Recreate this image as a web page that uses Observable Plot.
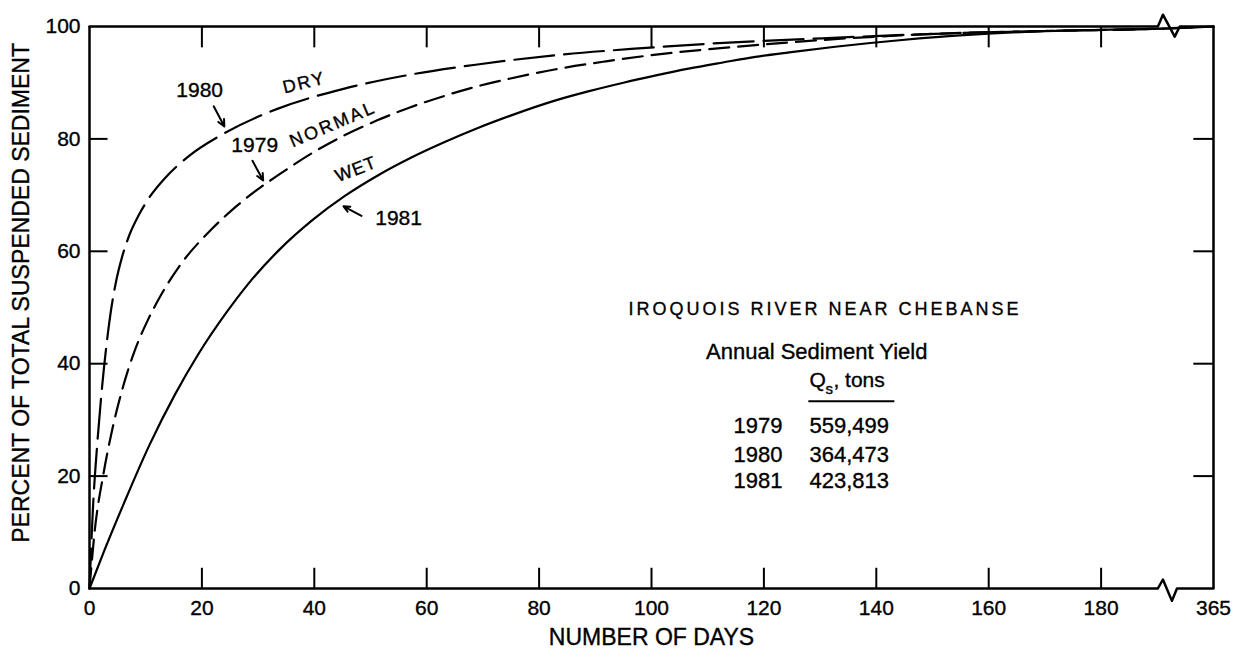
<!DOCTYPE html>
<html>
<head>
<meta charset="utf-8">
<script src="https://cdn.jsdelivr.net/npm/d3@7"></script>
<script src="https://cdn.jsdelivr.net/npm/@observablehq/plot@0.6"></script>
<style>
  body { margin: 0; background: #fff; }
</style>
</head>
<body>
<div id="chart"></div>
<script>
// ---- Data (days since start of water year, cumulative percent of annual suspended sediment)
// x value 200 stands for day 365 (axis break after 190)
const dryDays = [0, 0.6, 1.4, 2.3, 3.1, 3.9, 4.7, 5.8, 7.1, 8.8, 10.8, 13.5, 17.5, 24.0, 33.3, 45.2, 56.9, 68.7, 83.0, 97.7, 109.6, 130.4, 150.5, 170, 190, 200];
const dryPct  = [0, 14.0, 26.0, 36.5, 44.0, 50.0, 54.5, 59.0, 62.9, 66.5, 69.8, 73.1, 76.8, 81.0, 85.3, 88.9, 91.4, 93.2, 94.9, 96.1, 96.9, 97.9, 98.7, 99.2, 99.6, 100];

const normalDays = [0, 0.9, 2.5, 4.1, 5.8, 8.0, 10.4, 12.6, 16.1, 21.8, 26.0, 30.6, 33.5, 39.3, 45.3, 51.2, 57.0, 63.0, 68.8, 74.7, 83.0, 91.9, 100.8, 109.6, 118.5, 130.4, 150.5, 170, 190, 200];
const normalPct  = [0, 10.0, 20.5, 28.5, 35.3, 42.2, 47.8, 52.0, 57.5, 64.0, 67.9, 71.5, 73.5, 77.3, 80.6, 83.3, 85.6, 87.6, 89.3, 90.7, 92.4, 93.8, 95.0, 95.9, 96.7, 97.6, 98.7, 99.2, 99.6, 100];

const wetDays = [0, 2.7, 6.1, 10.7, 15.2, 19.3, 24.5, 28.0, 33.8, 39.6, 45.5, 51.3, 57.1, 63.1, 69.0, 74.8, 83.1, 88.9, 95.0, 100.8, 106.6, 112.7, 118.5, 124.5, 132.7, 144.6, 156.3, 168.2, 180, 190, 200];
const wetPct  = [0, 6.9, 15.1, 25.6, 34.5, 41.6, 49.3, 53.9, 60.3, 65.5, 69.9, 73.5, 76.6, 79.4, 81.9, 84.1, 86.9, 88.5, 90.0, 91.3, 92.5, 93.6, 94.6, 95.4, 96.4, 97.6, 98.5, 99.1, 99.4, 99.6, 100];

// ---- Axis ticks
const xTicks = [0, 20, 40, 60, 80, 100, 120, 140, 160, 180, 200];
const xTickLabels = ["0", "20", "40", "60", "80", "100", "120", "140", "160", "180", "365"];
const xInnerTicks = [20, 40, 60, 80, 100, 120, 140, 160, 180];
const yTicks = [0, 20, 40, 60, 80, 100];
const yInnerTicks = [20, 40, 60, 80];

// ---- Axis break (zig-zag) on bottom and top edges, in data units
const bottomEdge = [[0, 0], [190.1, 0], [191.0, 1.6], [192.6, -2.2], [193.5, 0], [200, 0]];
const topEdge = [[0, 100], [190.1, 100], [191.0, 102.1], [193.1, 98.2], [194.0, 100], [200, 100]];

// ---- Curve labels
const yearLabels = [
  {text: "1980", day: 19.6, pct: 88.6},
  {text: "1979", day: 29.4, pct: 78.8},
  {text: "1981", day: 55.0, pct: 65.9}
];
const typeLabels = [
  {text: "DRY", day: 38.2, pct: 90.0, angle: -14},
  {text: "NORMAL", day: 43.3, pct: 82.6, angle: -23},
  {text: "WET", day: 47.4, pct: 74.6, angle: -21}
];
const pointers = [
  {x1: 22.1, y1: 85.8, x2: 24.0, y2: 82.2},
  {x1: 29.0, y1: 76.1, x2: 30.9, y2: 72.6},
  {x1: 48.4, y1: 66.3, x2: 45.2, y2: 68.0}
];

// ---- Inset table
const stationName = "IROQUOIS RIVER NEAR CHEBANSE";
const tableTitle = "Annual Sediment Yield";
const tableYears = ["1979", "1980", "1981"];
const tableYields = ["559,499", "364,473", "423,813"];
const tableRowPct = [28.9, 23.7, 19.1];

const yLabel = "PERCENT OF TOTAL SUSPENDED SEDIMENT";
const xLabel = "NUMBER OF DAYS";

const rows = (days, pct) => days.map((d, i) => ({day: d, pct: pct[i]}));
const font = "'Liberation Sans', Arial, Helvetica, sans-serif";
const ink = "#000";

const chart = Plot.plot({
  width: 1234,
  height: 653,
  marginLeft: 89,
  marginRight: 21,
  marginTop: 26,
  marginBottom: 65,
  x: {domain: [0, 200]},
  y: {domain: [0, 100]},
  style: {fontFamily: font, fontSize: "21px", color: ink, background: "#fff", overflow: "visible"},
  marks: [
    // frame
    Plot.line(bottomEdge, {x: d => d[0], y: d => d[1], stroke: ink, strokeWidth: 2.5}),
    Plot.line(topEdge, {x: d => d[0], y: d => d[1], stroke: ink, strokeWidth: 2.5}),
    Plot.ruleX([0, 200], {y1: 0, y2: 100, stroke: ink, strokeWidth: 2.5}),
    // inward ticks
    Plot.ruleX(xInnerTicks, {x: d => d, y1: 0, y2: 3.6, stroke: ink, strokeWidth: 2}),
    Plot.ruleX(xInnerTicks, {x: d => d, y1: 100, y2: 96.2, stroke: ink, strokeWidth: 2}),
    Plot.ruleY(yInnerTicks, {y: d => d, x1: 0, x2: 3.3, stroke: ink, strokeWidth: 2}),
    Plot.ruleY(yInnerTicks, {y: d => d, x1: 200, x2: 196.5, stroke: ink, strokeWidth: 2}),
    // tick labels
    Plot.axisX({ticks: xTicks, tickFormat: d => xTickLabels[xTicks.indexOf(d)], tickSize: 0, tickPadding: 12, label: null, fontSize: 21, fill: ink}),
    Plot.axisY({ticks: yTicks, tickSize: 0, tickPadding: 9, label: null, fontSize: 21, fill: ink}),
    // axis titles
    Plot.text([xLabel], {x: 100, y: -8.7, text: d => d, fontSize: 23, fill: ink}),
    Plot.text([yLabel], {x: -12, y: 52.6, text: d => d, rotate: -90, fontSize: 23, fill: ink}),
    // curves
    Plot.line(rows(wetDays, wetPct), {x: "day", y: "pct", stroke: ink, strokeWidth: 2.2, curve: "monotone-x"}),
    Plot.line(rows(normalDays, normalPct), {x: "day", y: "pct", stroke: ink, strokeWidth: 2.2, strokeDasharray: "20,9", curve: "monotone-x"}),
    Plot.line(rows(dryDays, dryPct), {x: "day", y: "pct", stroke: ink, strokeWidth: 2.2, strokeDasharray: "40,10", curve: "monotone-x"}),
    // curve labels
    Plot.text(yearLabels, {x: "day", y: "pct", text: "text", fontSize: 21, fill: ink}),
    Plot.text(typeLabels, {x: "day", y: "pct", text: "text", rotate: "angle", fontSize: 18, fill: ink}),
    Plot.arrow(pointers, {x1: "x1", y1: "y1", x2: "x2", y2: "y2", stroke: ink, strokeWidth: 2, headLength: 9, headAngle: 50, bend: 0}),
    // inset table
    Plot.text([stationName], {x: 95.9, y: 49.7, text: d => d, textAnchor: "start", fontSize: 18, fill: ink}),
    Plot.text([tableTitle], {x: 109.7, y: 42.1, text: d => d, textAnchor: "start", fontSize: 22, fill: ink}),
    Plot.text(["Q"], {x: 128.1, y: 37.1, text: d => d, textAnchor: "start", fontSize: 21, fill: ink}),
    Plot.text(["s"], {x: 128.1, y: 37.1, text: d => d, textAnchor: "start", dx: 16, dy: 9, fontSize: 15, fill: ink}),
    Plot.text([", tons"], {x: 128.1, y: 37.1, text: d => d, textAnchor: "start", dx: 24, fontSize: 21, fill: ink}),
    Plot.ruleY([33.3], {x1: 128.0, x2: 143.3, stroke: ink, strokeWidth: 2}),
    Plot.text(tableYears, {x: 123.3, y: (d, i) => tableRowPct[i], text: d => d, textAnchor: "end", fontSize: 22, fill: ink}),
    Plot.text(tableYields, {x: 128.1, y: (d, i) => tableRowPct[i], text: d => d, textAnchor: "start", fontSize: 22, fill: ink})
  ]
});

// letter spacing as in the typeset original
const spacing = new Map([[stationName, 3], ["NORMAL", 2.5], ["DRY", 2], ["WET", 1]]);
d3.select(chart).selectAll("text")
  .each(function() {
    const s = spacing.get(this.textContent);
    if (s) d3.select(this).style("letter-spacing", s + "px");
  })
  .style("stroke", ink)
  .style("stroke-width", "0.35px");

document.getElementById("chart").appendChild(chart);
</script>
</body>
</html>
